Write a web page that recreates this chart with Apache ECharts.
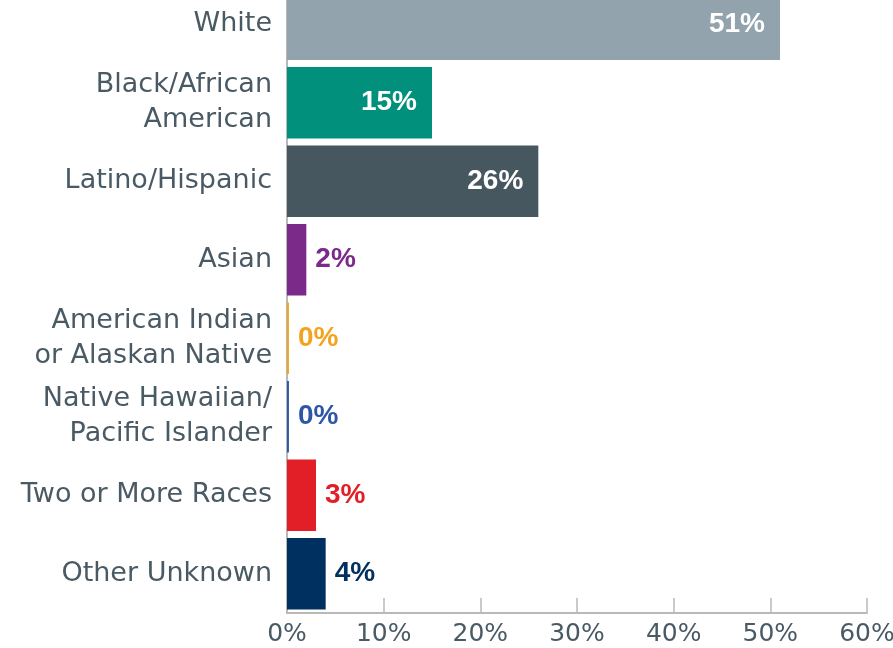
<!DOCTYPE html>
<html>
<head>
<meta charset="utf-8">
<script src="https://cdn.jsdelivr.net/npm/echarts@6/dist/echarts.min.js"></script>
<style>
  html, body { margin: 0; padding: 0; background: #fff; overflow: hidden; }
  #main { width: 893px; height: 663px; margin-top: -15px; }
</style>
</head>
<body>
<div id="main"></div>
<script>
var categories = ['White', 'Black/African\nAmerican', 'Latino/Hispanic', 'Asian',
    'American Indian\nor Alaskan Native', 'Native Hawaiian/\nPacific Islander',
    'Two or More Races', 'Other Unknown'];
var values = [51, 15, 26, 2, 0.2, 0.2, 3, 4];
var colors = ['#93a3ad', '#00907b', '#465760', '#7b2a8a', '#f5a31e', '#2e55a6', '#e21e26', '#00305f'];
var xTicks = [0, 10, 20, 30, 40, 50, 60];

var textGray = '#4a5a64';
var font = '"DejaVu Sans", sans-serif';
var valueFont = '"Liberation Sans", Arial, sans-serif';

var dom = document.getElementById('main');
var myChart = echarts.init(dom);

var barData = values.map(function (v, i) {
    var inside = v >= 10;
    return {
        value: v,
        itemStyle: { color: colors[i] },
        label: {
            position: inside ? 'insideRight' : 'right',
            distance: inside ? 15 : 9,
            color: inside ? '#ffffff' : colors[i]
        }
    };
});

option = {
    animation: false,
    grid: {
        left: 287,
        right: 26,
        top: 0,
        bottom: 35,
        containLabel: false,
        outerBoundsMode: 'none'
    },
    xAxis: {
        type: 'value',
        min: xTicks[0],
        max: xTicks[xTicks.length - 1],
        interval: 10,
        axisLine: { show: true, lineStyle: { color: '#b9b9b9', width: 2 } },
        axisTick: { show: true, inside: true, length: 15, lineStyle: { color: '#b9b9b9', width: 1.5 } },
        splitLine: { show: false },
        axisLabel: {
            formatter: '{value}%',
            color: textGray,
            fontFamily: font,
            fontSize: 25,
            margin: 9
        }
    },
    yAxis: {
        type: 'category',
        inverse: true,
        data: categories,
        axisLine: { show: true, lineStyle: { color: '#b9b9b9', width: 2 } },
        axisTick: { show: false },
        axisLabel: {
            color: textGray,
            fontFamily: font,
            fontSize: 27,
            lineHeight: 35,
            margin: 15,
            align: 'right'
        }
    },
    series: [{
        type: 'bar',
        data: barData,
        barCategoryGap: '9%',
        label: {
            show: true,
            fontFamily: valueFont,
            fontWeight: 'bold',
            fontSize: 28,
            formatter: function (p) { return Math.round(p.value) + '%'; }
        }
    }]
};
myChart.setOption(option);
</script>
</body>
</html>
